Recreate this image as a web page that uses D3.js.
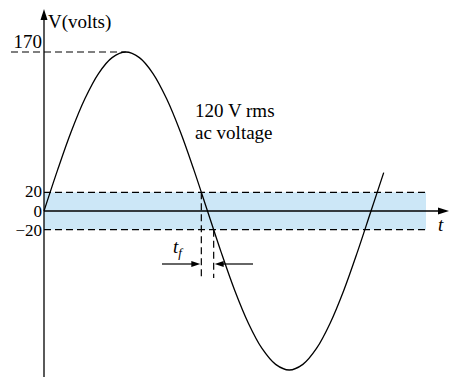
<!DOCTYPE html>
<html><head><meta charset="utf-8">
<script src="https://cdn.jsdelivr.net/npm/d3@7"></script>
<style>body{margin:0;background:#fff}svg{display:block}text{font-family:"Liberation Serif","Times New Roman",serif;fill:#000}</style>
</head><body>
<script>
// Data: phase angle (degrees) and voltage (volts)
const angles = [0,15,30,45,60,75,90,105,120,135,150,165,180,195,210,225,240,255,270,285,300,315,330,345,360,374];
const volts  = [0,44,85,120,147,164,170,164,147,120,85,44,0,-44,-85,-120,-147,-164,-170,-164,-147,-120,-85,-44,0,41];
const peakV = 170;
const bandV = [20,-20];
const tickLabels = ["170","20","0","\u221220"];
const tickValues = [170,20,0,-20];
const tfAngles = [173.2,186.8]; // crossings of +20 and -20 V
const annot = ["120 V rms","ac voltage"];

const W=449,H=377;
const svg=d3.select("body").append("svg").attr("width",W).attr("height",H);
const x=d3.scaleLinear().domain([0,360]).range([44,371]);
const y=d3.scaleLinear().domain([-170,170]).range([370,52]);
const x0=x(0), y0=y(0);

// band
svg.append("rect").attr("x",x0).attr("y",y(bandV[0])).attr("width",426-x0)
  .attr("height",y(bandV[1])-y(bandV[0])).attr("fill","#cce7f7");
// band dashed lines
bandV.forEach(v=>svg.append("line").attr("x1",x0).attr("x2",426).attr("y1",y(v)).attr("y2",y(v))
  .attr("stroke","#000").attr("stroke-width",1.2).attr("stroke-dasharray","7,4"));
// peak dashed line
svg.append("line").attr("x1",11).attr("x2",x(90)).attr("y1",y(peakV)).attr("y2",y(peakV))
  .attr("stroke","#000").attr("stroke-width",1.2).attr("stroke-dasharray","7,4");

// axes
svg.append("line").attr("x1",x0).attr("x2",x0).attr("y1",H).attr("y2",18).attr("stroke","#000").attr("stroke-width",1.3);
svg.append("path").attr("d",`M${x0},9 L${x0-3.5},20 L${x0+3.5},20 Z`).attr("fill","#000");
svg.append("line").attr("x1",x0).attr("x2",440).attr("y1",y0).attr("y2",y0).attr("stroke","#000").attr("stroke-width",1.3);
svg.append("path").attr("d",`M449,${y0} L438,${y0-3.5} L438,${y0+3.5} Z`).attr("fill","#000");

// sine curve
const line=d3.line().x((d,i)=>x(angles[i])).y(d=>y(d)).curve(d3.curveCatmullRom.alpha(0.5));
svg.append("path").attr("d",line(volts)).attr("fill","none").attr("stroke","#000").attr("stroke-width",1.3);

// tf dashed verticals
svg.append("line").attr("x1",x(tfAngles[0])).attr("x2",x(tfAngles[0])).attr("y1",y(bandV[0])).attr("y2",278)
  .attr("stroke","#000").attr("stroke-width",1.2).attr("stroke-dasharray","7,4");
svg.append("line").attr("x1",x(tfAngles[1])).attr("x2",x(tfAngles[1])).attr("y1",y(bandV[1])).attr("y2",278)
  .attr("stroke","#000").attr("stroke-width",1.2).attr("stroke-dasharray","7,4");
// arrows
const ay=264;
const xa=x(tfAngles[0]), xb=x(tfAngles[1]);
svg.append("line").attr("x1",162).attr("x2",xa-8).attr("y1",ay).attr("y2",ay).attr("stroke","#000").attr("stroke-width",1.2);
svg.append("path").attr("d",`M${xa-1},${ay} L${xa-10},${ay-3} L${xa-10},${ay+3} Z`).attr("fill","#000");
svg.append("line").attr("x1",xb+8).attr("x2",253).attr("y1",ay).attr("y2",ay).attr("stroke","#000").attr("stroke-width",1.2);
svg.append("path").attr("d",`M${xb+1},${ay} L${xb+10},${ay-3} L${xb+10},${ay+3} Z`).attr("fill","#000");

// labels
svg.append("text").attr("x",48).attr("y",28).attr("font-size",19).text("V(volts)");
const tickOff = {170:-4, 20:5, 0:5.5, "-20":6.5};
tickValues.forEach((v,i)=>svg.append("text").attr("x",42).attr("y",y(v)+tickOff[v]).attr("text-anchor","end")
  .attr("font-size",v===170?19:17).text(tickLabels[i]));
svg.append("text").attr("x",195).attr("y",117).attr("font-size",19).text(annot[0]);
svg.append("text").attr("x",195).attr("y",139).attr("font-size",19).text(annot[1]);
svg.append("text").attr("x",438).attr("y",231).attr("font-size",19).attr("font-style","italic").text("t");
const tf=svg.append("text").attr("x",173).attr("y",253).attr("font-size",19).attr("font-style","italic");
tf.append("tspan").text("t");
tf.append("tspan").attr("dy",4).attr("font-size",13).text("f");
</script>
</body></html>
